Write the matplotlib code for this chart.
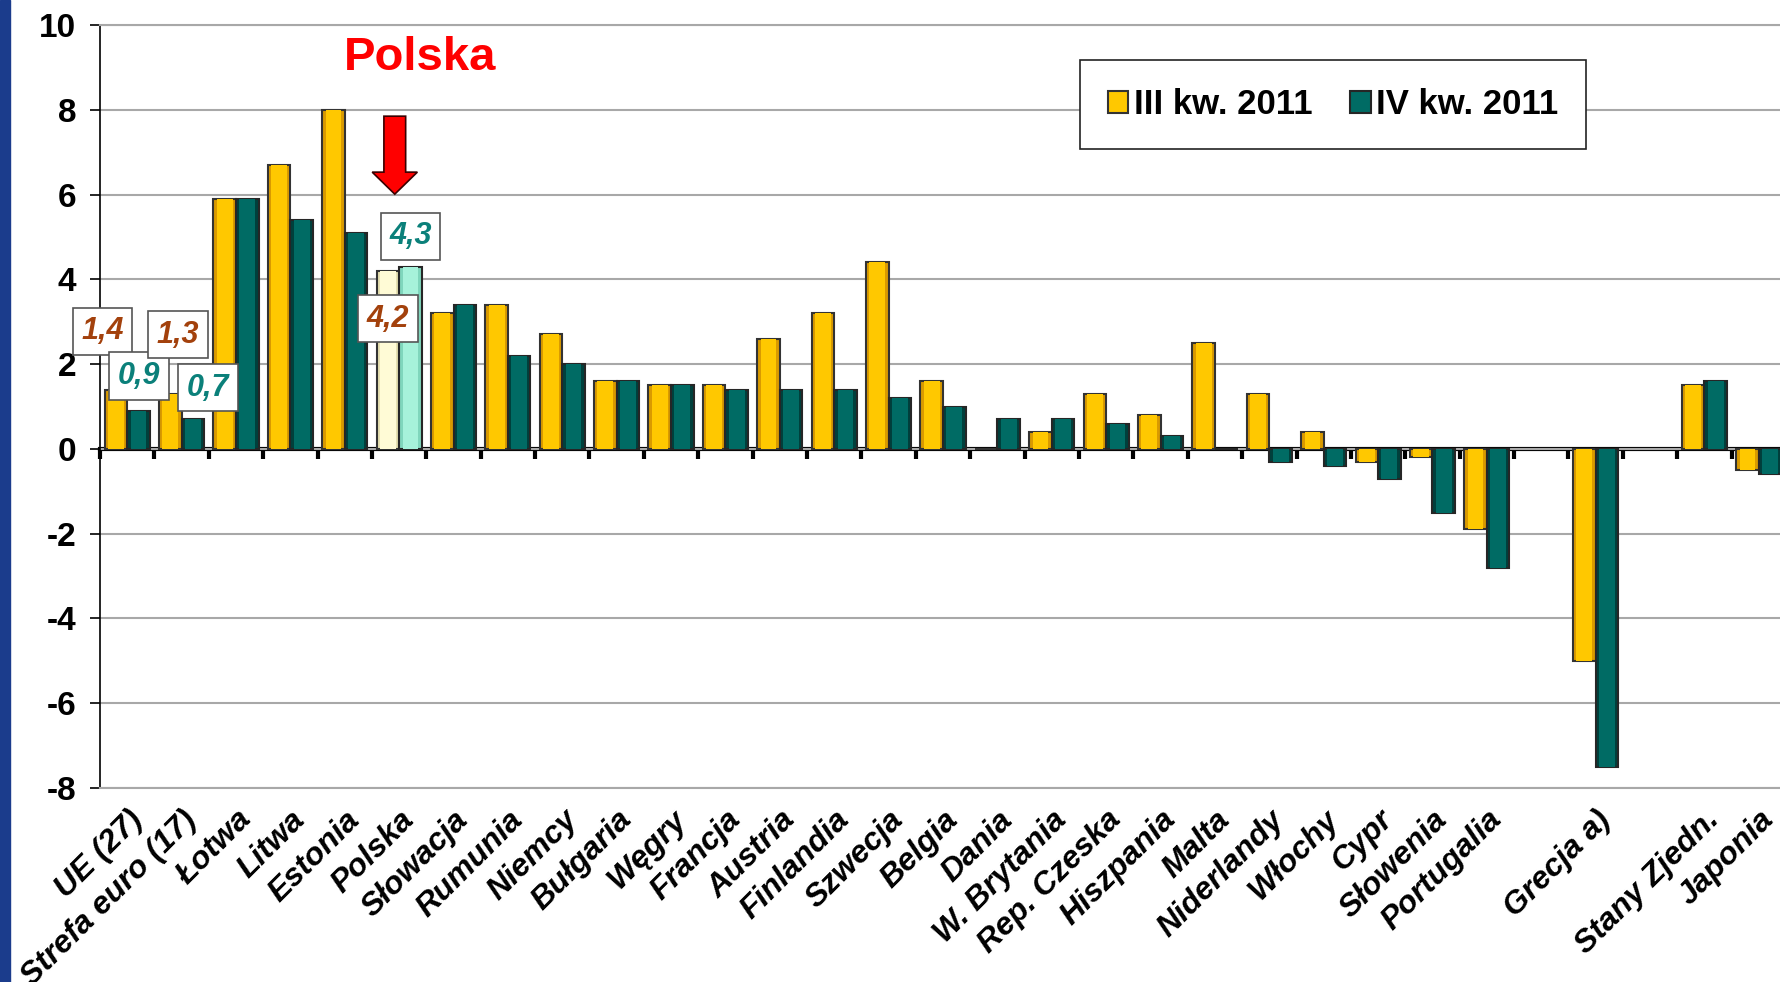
import numpy as np
import matplotlib.pyplot as plt
from matplotlib.patches import Patch, FancyArrow, Rectangle

# categories (empty strings are gaps in the original chart)
kraje = ["UE (27)", "Strefa euro (17)", "Łotwa", "Litwa", "Estonia", "Polska",
         "Słowacja", "Rumunia", "Niemcy", "Bułgaria", "Węgry", "Francja",
         "Austria", "Finlandia", "Szwecja", "Belgia", "Dania", "W. Brytania",
         "Rep. Czeska", "Hiszpania", "Malta", "Niderlandy", "Włochy", "Cypr",
         "Słowenia", "Portugalia", "", "Grecja a)", "", "Stany Zjedn.", "Japonia"]

kw3 = [1.4, 1.3, 5.9, 6.7, 8.0, 4.2, 3.2, 3.4, 2.7, 1.6, 1.5, 1.5, 2.6, 3.2, 4.4,
       1.6, 0.0, 0.4, 1.3, 0.8, 2.5, 1.3, 0.4, -0.3, -0.2, -1.9, np.nan, -5.0,
       np.nan, 1.5, -0.5]
kw4 = [0.9, 0.7, 5.9, 5.4, 5.1, 4.3, 3.4, 2.2, 2.0, 1.6, 1.5, 1.4, 1.4, 1.4, 1.2,
       1.0, 0.7, 0.7, 0.6, 0.3, 0.0, -0.3, -0.4, -0.7, -1.5, -2.8, np.nan, -7.5,
       np.nan, 1.6, -0.6]

seria3 = "III kw. 2011"
seria4 = "IV kw. 2011"
wyroznij = "Polska"
y_ticks = list(range(-8, 11, 2))

# colours
zolty, zolty_ciemny = "#FFC800", "#D99A00"
morski, morski_ciemny = "#006B64", "#00403C"
zolty_pl, zolty_pl_ciemny = "#FFFBD6", "#E6E0B0"
morski_pl, morski_pl_ciemny = "#A6F2DA", "#7FD6BC"
braz = "#A3410C"
turkus = "#0B807A"

fig = plt.figure(figsize=(17.81, 9.82), dpi=100)
fig.patch.set_facecolor("white")
# blue strip at the left edge of the slide
fig.add_artist(Rectangle((0, 0), 10 / 1781, 1, transform=fig.transFigure,
                         color="#1B3C8C", zorder=0))

ax = fig.add_axes([100 / 1781, 0.1975, 1686 / 1781, 0.777])

x = np.arange(len(kraje))
w = 0.415
pl = kraje.index(wyroznij)

c3 = [zolty_pl if i == pl else zolty for i in x]
c3d = [zolty_pl_ciemny if i == pl else zolty_ciemny for i in x]
c4 = [morski_pl if i == pl else morski for i in x]
c4d = [morski_pl_ciemny if i == pl else morski_ciemny for i in x]

# base bars (darker bevel) + lighter inner face
ax.bar(x - w / 2, kw3, w, color=c3d, edgecolor="#333333", linewidth=1.5, zorder=3)
ax.bar(x - w / 2, kw3, w * 0.7, color=c3, linewidth=0, zorder=4)
ax.bar(x + w / 2, kw4, w, color=c4d, edgecolor="#262626", linewidth=1.5, zorder=3)
ax.bar(x + w / 2, kw4, w * 0.7, color=c4, linewidth=0, zorder=4)

ax.set_xlim(-0.5, len(kraje) - 0.5)
ax.set_ylim(-8, 10)
ax.set_yticks(y_ticks)
ax.set_yticklabels([str(v) for v in y_ticks], fontsize=24, fontweight="bold",
                   family="Liberation Sans")
ax.yaxis.grid(True, color="#A8A8A8", linewidth=1.5, zorder=0)
ax.set_axisbelow(True)

for s in ["top", "bottom"]:
    ax.spines[s].set_color("#A8A8A8")
    ax.spines[s].set_linewidth(1.5)
ax.spines["right"].set_visible(False)
ax.spines["left"].set_linewidth(1.2)

ax.tick_params(axis="y", length=7, width=1.2, pad=10)

ax.set_xticks(x)
ax.set_xticklabels(kraje, rotation=45, ha="right", rotation_mode="anchor",
                   fontsize=23, fontweight="bold", fontstyle="italic",
                   family="Liberation Sans")
ax.tick_params(axis="x", length=0, pad=12)

# zero axis with category tick marks
sec = ax.secondary_xaxis(8 / 18)
sec.set_xticks(np.arange(-0.5, len(kraje), 1))
sec.tick_params(length=7, width=3, direction="out", labelbottom=False, color="black")
sec.spines["bottom"].set_linewidth(3)
sec.spines["bottom"].set_color("black")

# value boxes: (category, series, dx, dy)
etykiety = [(0, 3, -0.25, 1.38), (0, 4, 0.01, 0.82),
            (1, 3, 0.14, 1.39), (1, 4, 0.28, 0.74),
            (pl, 4, 0.0, 0.72), (pl, 3, 0.0, -1.13)]
for i, s, dx, dy in etykiety:
    v = kw3[i] if s == 3 else kw4[i]
    xb = i - w / 2 if s == 3 else i + w / 2
    ax.text(xb + dx, v + dy, f"{v:.1f}".replace(".", ","),
            ha="center", va="center", fontsize=22, fontweight="bold",
            fontstyle="italic", family="Liberation Sans",
            color=braz if s == 3 else turkus, zorder=6,
            bbox=dict(boxstyle="square,pad=0.28", fc="white", ec="#555555", lw=1.2))

# "Polska" title with arrow
ax.text(pl + 0.38, 9.22, wyroznij, color="#FF0000", fontsize=34, fontweight="bold",
        family="Liberation Sans", ha="center", va="center", zorder=6)
ax.add_patch(FancyArrow(pl - 0.08, 7.85, 0, -1.84, width=0.40, head_width=0.83,
                        head_length=0.52, length_includes_head=True,
                        fc="#FF0000", ec="#3A0000", lw=1.2, zorder=6))

uchwyty = [Patch(facecolor=zolty, edgecolor="#333333", linewidth=1.5, label=seria3),
           Patch(facecolor=morski, edgecolor="#262626", linewidth=1.5, label=seria4)]
leg = fig.legend(handles=uchwyty, loc="center", bbox_to_anchor=(0.7485, 0.8936),
                 ncol=2, prop={"family": "Liberation Sans", "weight": "bold", "size": 25},
                 handlelength=0.6, handleheight=0.6, handletextpad=0.15,
                 columnspacing=1.1, borderpad=0.8, fancybox=False, framealpha=1)
leg.get_frame().set_edgecolor("#222222")
leg.get_frame().set_linewidth(1.2)

fig.savefig("out.png", dpi=100)
